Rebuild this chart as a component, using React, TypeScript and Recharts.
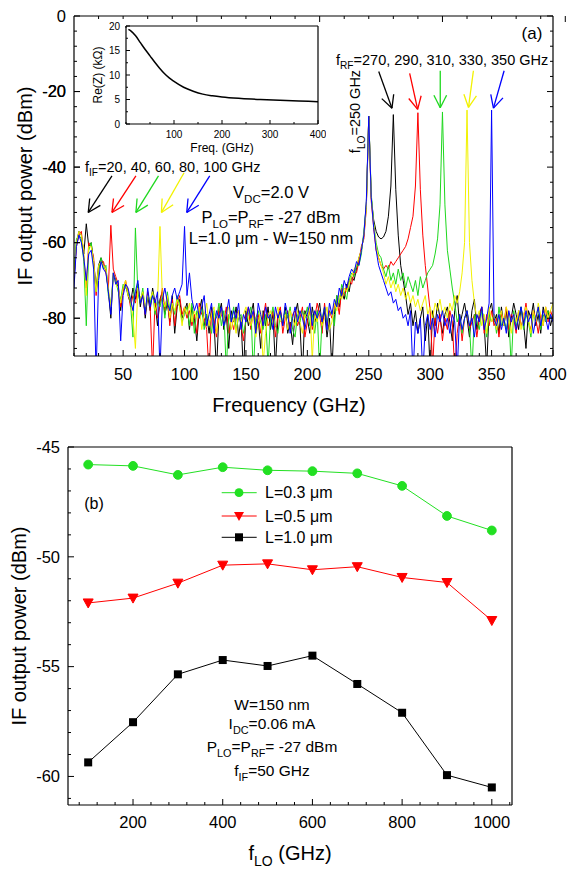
import React from 'react';
import { LineChart, Line, XAxis, YAxis, ReferenceLine } from 'recharts';

const FONT = "'Liberation Sans', Arial, Helvetica, sans-serif";

const range = (a: number, b: number, s: number) =>
  Array.from({ length: Math.round((b - a) / s) + 1 }, (_, i) => +(a + i * s).toFixed(4));

// ---------- panel (a): IF spectra, 2 GHz grid from 10 to 400 GHz ----------
const freqGHz = range(10, 400, 2);

const blackDb = [
  -70, -60, -57, -58, -63, -55, -61, -60, -65, -72,
  -66, -64, -66, -67, -73, -80, -68, -70, -72, -78,
  -72, -71, -74, -76, -72, -75, -71, -77, -73, -80,
  -74, -78, -72, -76, -82, -75, -73, -79, -76, -81,
  -74, -84, -77, -75, -80, -78, -76, -83, -77, -80,
  -86, -78, -75, -82, -79, -84, -77, -81, -94, -79,
  -76, -83, -79, -88, -78, -81, -77, -85, -80, -95,
  -78, -82, -79, -76, -84, -80, -88, -78, -82, -77,
  -83, -79, -93, -80, -78, -82, -77, -84, -81, -87,
  -79, -76, -82, -95, -78, -80, -84, -77, -81, -79,
  -76, -82, -78, -85, -80, -94, -79, -74, -77, -73,
  -75, -71, -73, -69, -70, -67, -64, -62, -58, -50,
  -26.5, -48, -54, -57, -58.5, -59, -58.5, -57, -53, -45,
  -26.1, -46, -58, -66, -70, -74, -79, -76, -82, -78,
  -84, -80, -77, -86, -79, -94, -78, -82, -76, -80,
  -84, -79, -77, -81, -86, -78, -74, -82, -79, -76,
  -80, -85, -78, -75, -83, -79, -77, -82, -93, -78,
  -76, -81, -79, -84, -77, -82, -78, -85, -80, -76,
  -79, -83, -77, -81, -88, -78, -80, -76, -82, -79,
  -84, -77, -80, -78, -82, -79,
];

const redDb = [
  -69, -61, -58, -57, -64, -72, -60, -61, -64, -74,
  -67, -65, -65, -68, -72, -55.4, -67, -69, -71, -77,
  -73, -70, -73, -77, -74, -76, -72, -75, -74, -79,
  -73, -77, -94, -75, -80, -76, -72, -78, -74, -82,
  -75, -82, -76, -74, -79, -77, -80, -78, -82, -79,
  -84, -76, -79, -80, -83, -95, -78, -80, -85, -77,
  -79, -81, -77, -84, -80, -83, -79, -78, -82, -86,
  -80, -77, -83, -78, -81, -79, -84, -80, -76, -82,
  -81, -78, -85, -79, -77, -84, -80, -78, -83, -79,
  -78, -82, -80, -77, -85, -81, -78, -83, -80, -76,
  -79, -84, -76, -82, -78, -80, -77, -75, -79, -72,
  -74, -72, -70, -71, -68, -68, -65, -61, -59, -51,
  -26.5, -49, -56, -62, -64, -66, -67, -66, -67, -65,
  -66, -65, -64, -63, -62, -61, -59, -56, -53, -45,
  -25.6, -46, -58, -66, -72, -78, -93, -80, -84, -79,
  -86, -80, -83, -78, -81, -94, -84, -79, -86, -80,
  -78, -83, -81, -79, -85, -80, -77, -84, -79, -82,
  -78, -82, -80, -85, -79, -81, -77, -83, -79, -80,
  -84, -78, -82, -80, -76, -81, -83, -78, -80, -84,
  -79, -82, -77, -81, -78, -80,
];

const greenDb = [
  -68, -59, -58, -59, -65, -82, -62, -60, -66, -73,
  -68, -64, -67, -66, -74, -76, -69, -70, -73, -75,
  -71, -72, -73, -76, -85, -56.1, -73, -76, -72, -78,
  -74, -76, -73, -79, -75, -77, -74, -80, -73, -78,
  -76, -79, -74, -77, -81, -79, -77, -82, -76, -84,
  -78, -80, -77, -83, -79, -81, -84, -78, -80, -76,
  -82, -78, -94, -79, -81, -77, -83, -80, -79, -84,
  -81, -79, -77, -95, -80, -78, -81, -83, -79, -93,
  -80, -77, -82, -84, -79, -81, -78, -80, -77, -83,
  -85, -79, -81, -78, -80, -77, -82, -79, -84, -78,
  -94, -80, -77, -81, -79, -78, -82, -74, -76, -71,
  -73, -75, -70, -68, -69, -66, -66, -63, -57, -50,
  -26.5, -47, -55, -60, -63, -64, -67, -69, -66, -70,
  -68, -71, -67, -70, -68, -72, -69, -71, -73, -70,
  -74, -69, -72, -70, -68, -67, -66, -63, -59, -50,
  -25.4, -50, -62, -67, -72, -76, -81, -79, -84, -80,
  -78, -82, -94, -79, -81, -83, -78, -80, -85, -79,
  -81, -79, -84, -77, -82, -80, -83, -79, -93, -78,
  -82, -80, -77, -83, -79, -81, -85, -79, -80, -77,
  -83, -79, -81, -78, -80, -79,
];

const yellowDb = [
  -69, -60, -57, -58, -62, -74, -61, -61, -65, -73,
  -66, -65, -66, -67, -72, -77, -68, -71, -72, -76,
  -72, -70, -74, -75, -80, -88, -72, -75, -73, -77,
  -74, -75, -73, -78, -76, -55.7, -75, -77, -74, -80,
  -76, -78, -75, -77, -82, -77, -79, -76, -81, -78,
  -80, -77, -83, -79, -76, -82, -79, -77, -84, -80,
  -78, -81, -79, -77, -83, -80, -84, -78, -81, -79,
  -77, -80, -82, -79, -85, -81, -78, -92, -84, -79,
  -78, -82, -80, -77, -81, -80, -79, -83, -78, -80,
  -82, -78, -81, -84, -79, -80, -77, -91, -79, -81,
  -78, -82, -80, -77, -83, -81, -76, -78, -74, -75,
  -72, -73, -71, -69, -67, -66, -64, -62, -58, -51,
  -26.5, -48, -55, -61, -64, -66, -68, -71, -69, -72,
  -70, -73, -71, -74, -72, -75, -73, -76, -74, -77,
  -75, -78, -76, -74, -79, -77, -80, -76, -78, -75,
  -79, -77, -80, -76, -78, -74, -76, -73, -68, -60,
  -24.9, -60, -70, -76, -80, -78, -82, -79, -84, -77,
  -81, -79, -83, -80, -78, -82, -77, -80, -84, -79,
  -81, -78, -83, -79, -77, -80, -84, -78, -81, -76,
  -79, -82, -77, -80, -78, -76,
];

const blueDb = [
  -72, -61, -58, -60, -64, -70, -63, -62, -67, -95,
  -70, -65, -67, -68, -73, -79, -68, -71, -70, -86,
  -74, -71, -72, -75, -78, -73, -70, -76, -74, -79,
  -72, -77, -74, -76, -73, -94, -75, -72, -76, -78,
  -74, -72, -75, -73, -71, -55.7, -74, -68, -75, -78,
  -76, -80, -77, -74, -82, -79, -76, -84, -78, -80,
  -77, -82, -79, -75, -81, -78, -80, -76, -83, -79,
  -81, -77, -80, -78, -84, -76, -79, -82, -77, -80,
  -79, -83, -77, -80, -78, -82, -76, -79, -84, -80,
  -77, -81, -78, -80, -83, -79, -76, -82, -78, -80,
  -78, -81, -77, -83, -76, -79, -75, -77, -72, -74,
  -70, -72, -69, -67, -68, -65, -66, -62, -58, -49,
  -26.5, -48, -56, -62, -66, -68, -70, -72, -74, -73,
  -76, -75, -78, -77, -80, -79, -82, -78, -95, -81,
  -84, -80, -95, -82, -79, -83, -80, -85, -79, -81,
  -78, -82, -80, -84, -79, -81, -94, -79, -83, -80,
  -78, -82, -80, -85, -79, -81, -77, -83, -80, -76,
  -24.9, -80, -82, -79, -83, -80, -84, -78, -81, -79,
  -83, -80, -77, -82, -78, -81, -79, -84, -80, -77,
  -82, -78, -80, -83, -79, -81,
];

const SPECTRA = [
  { key: 'black', color: '#000000', values: blackDb },
  { key: 'red', color: '#ff0000', values: redDb },
  { key: 'green', color: '#1ed81e', values: greenDb },
  { key: 'yellow', color: '#f2f200', values: yellowDb },
  { key: 'blue', color: '#0000ff', values: blueDb },
];

const spectrumRows = freqGHz.map((f, i) => {
  const row: Record<string, number> = { f };
  SPECTRA.forEach((s) => (row[s.key] = s.values[i]));
  return row;
});

// inset: Re(Z) vs frequency
const insetFreq = [5, 10, 20, 30, 40, 50, 60, 70, 80, 90, 100, 120, 140, 160, 180, 200, 240, 280, 320, 360, 400];
const insetReZ = [19.3, 19.0, 18.0, 16.6, 15.2, 13.9, 12.6, 11.4, 10.3, 9.4, 8.7, 7.5, 6.7, 6.1, 5.75, 5.5, 5.2, 5.0, 4.85, 4.7, 4.55];
const insetRows = insetFreq.map((f, i) => ({ f, z: insetReZ[i] }));

// ---------- panel (b): IF power vs f_LO ----------
const loFreq = [100, 200, 300, 400, 500, 600, 700, 800, 900, 1000];
const powerL03 = [-45.8, -45.86, -46.27, -45.92, -46.06, -46.1, -46.2, -46.77, -48.14, -48.8];
const powerL05 = [-52.1, -51.88, -51.2, -50.38, -50.32, -50.59, -50.45, -50.94, -51.17, -52.9];
const powerL10 = [-59.36, -57.53, -55.35, -54.7, -54.97, -54.5, -55.79, -57.1, -59.94, -60.5];
const loRows = loFreq.map((f, i) => ({ f, l03: powerL03[i], l05: powerL05[i], l10: powerL10[i] }));

// tick labels
const specXMajor = [50, 100, 150, 200, 250, 300, 350, 400];
const specYMajor = [0, -20, -40, -60, -80];
const insetXMajor = [100, 200, 300, 400];
const insetYMajor = [0, 5, 10, 15, 20];
const loXMajor = [200, 400, 600, 800, 1000];
const loYMajor = [-45, -50, -55, -60];

// ---------- geometry ----------
// axes need a non-zero box, so each chart's margin = wanted offset minus axis sizes
const AX_B = 30; // bottom axis height
const AX_L = 40; // left axis width
const AX_T = 1; // top axis height
const AX_R = 1; // right axis width

const TOP_W = 567;
const TOP_H = 400;
const TOP_PLOT = { top: 16, right: 14, bottom: 44, left: 74 };
const KX = (TOP_W - TOP_PLOT.left - TOP_PLOT.right) / (400 - 10);
const KY = (TOP_H - TOP_PLOT.top - TOP_PLOT.bottom) / 90;

const marginFor = (p: { top: number; right: number; bottom: number; left: number }) => ({
  top: p.top - AX_T,
  right: p.right - AX_R,
  bottom: p.bottom - AX_B,
  left: p.left - AX_L,
});

type Pt = [number, number];

// shaft + two wings of an arrow, in data coordinates
function arrowSegments(tail: Pt, tip: Pt, head = 14, ang = 0.47) {
  const dx = (tail[0] - tip[0]) * KX;
  const dy = -(tail[1] - tip[1]) * KY;
  const len = Math.hypot(dx, dy);
  const ux = dx / len;
  const uy = dy / len;
  const wing = (a: number) => {
    const px = (ux * Math.cos(a) - uy * Math.sin(a)) * head;
    const py = (ux * Math.sin(a) + uy * Math.cos(a)) * head;
    return { x: tip[0] + px / KX, y: tip[1] - py / KY };
  };
  const t = { x: tip[0], y: tip[1] };
  return [
    [{ x: tail[0], y: tail[1] }, t],
    [t, wing(ang)],
    [t, wing(-ang)],
  ];
}

const ARROWS: { color: string; tail: Pt; tip: Pt }[] = [
  { color: '#000000', tail: [40.9, -42.3], tip: [21.6, -52] },
  { color: '#ff0000', tail: [60.4, -42.3], tip: [40.9, -52] },
  { color: '#1ed81e', tail: [78.8, -42.3], tip: [60.4, -52] },
  { color: '#f2f200', tail: [99.6, -41.5], tip: [81.2, -52] },
  { color: '#0000ff', tail: [120.5, -42.3], tip: [101.8, -52] },
  { color: '#000000', tail: [258.1, -14.7], tip: [268.9, -24.4] },
  { color: '#ff0000', tail: [283.3, -15.2], tip: [289.8, -24.7] },
  { color: '#1ed81e', tail: [308.2, -14.5], tip: [308.2, -24.3] },
  { color: '#f2f200', tail: [335.2, -14.5], tip: [331.2, -24.2] },
  { color: '#0000ff', tail: [360.2, -14.5], tip: [351.5, -24.4] },
];

type Side = 'bottom' | 'top' | 'left' | 'right';

// inward frame ticks; majors get longer ticks and (optionally) a label
function frameTick(side: Side, majors: number[], label: boolean, fontSize: number, gap: number, major = 6, minor = 3) {
  return (p: any) => {
    const v = p.payload.value;
    const isMajor = majors.includes(v);
    const len = isMajor ? major : minor;
    const { x, y } = p;
    let line: React.ReactNode;
    let text: React.ReactNode = null;
    const ts = { fontSize, fontFamily: FONT, fill: '#000' };
    if (side === 'bottom') {
      line = <line x1={x} y1={y - gap} x2={x} y2={y - gap - len} />;
      if (label && isMajor) text = <text x={x} y={y} dy="0.71em" textAnchor="middle" stroke="none" {...ts}>{v}</text>;
    } else if (side === 'top') {
      line = <line x1={x} y1={y + gap} x2={x} y2={y + gap + len} />;
    } else if (side === 'left') {
      line = <line x1={x + gap} y1={y} x2={x + gap + len} y2={y} />;
      if (label && isMajor) text = <text x={x} y={y} dy="0.35em" textAnchor="end" stroke="none" {...ts}>{v}</text>;
    } else {
      line = <line x1={x - gap} y1={y} x2={x - gap - len} y2={y} />;
    }
    return (
      <g stroke="#000" strokeWidth={1}>
        {line}
        {text}
      </g>
    );
  };
}

const axisLine = { stroke: '#000', strokeWidth: 1.2 };

// text with subscripts: parts = [text, isSub]
function Label({ x, cy, size, parts, anchor = 'start', rotate = false }: {
  x: number; cy: number; size: number; parts: [string, boolean][]; anchor?: 'start' | 'middle' | 'end'; rotate?: boolean;
}) {
  const shift = size * 0.3;
  let cur = 0;
  return (
    <text
      x={x}
      y={cy + size * 0.36}
      fontSize={size}
      fontFamily={FONT}
      textAnchor={anchor}
      fill="#000"
      transform={rotate ? `rotate(-90 ${x} ${cy})` : undefined}
    >
      {parts.map(([t, sub], i) => {
        const target = sub ? shift : 0;
        const dy = target - cur;
        cur = target;
        return (
          <tspan key={i} dy={dy} fontSize={sub ? size * 0.7 : size}>
            {t}
          </tspan>
        );
      })}
    </text>
  );
}

function SpectrumChart() {
  return (
    <LineChart width={TOP_W} height={TOP_H} data={spectrumRows} margin={marginFor(TOP_PLOT)}>
      <XAxis dataKey="f" type="number" domain={[10, 400]} allowDataOverflow ticks={range(10, 400, 10)} interval={0}
        height={AX_B} tickSize={0} tickMargin={12} tickLine={false} axisLine={axisLine}
        tick={frameTick('bottom', specXMajor, true, 16.5, 12)} />
      <XAxis xAxisId="t" orientation="top" type="number" domain={[10, 400]} allowDataOverflow ticks={range(10, 400, 10)} interval={0}
        height={AX_T} tickSize={0} tickMargin={0} tickLine={false} axisLine={axisLine}
        tick={frameTick('top', specXMajor, false, 16, 0)} />
      <YAxis type="number" domain={[-90, 0]} allowDataOverflow ticks={range(-88, 0, 4).concat([-80, -60, -40, -20])} interval={0}
        width={AX_L} tickSize={0} tickMargin={8} tickLine={false} axisLine={axisLine}
        tick={frameTick('left', specYMajor, true, 16.5, 8)} />
      <YAxis yAxisId="r" orientation="right" type="number" domain={[-90, 0]} allowDataOverflow ticks={range(-88, 0, 4)} interval={0}
        width={AX_R} tickSize={0} tickMargin={0} tickLine={false} axisLine={axisLine}
        tick={frameTick('right', specYMajor, false, 16, 0)} />
      {SPECTRA.map((s) => (
        <Line key={s.key} dataKey={s.key} type="linear" stroke={s.color} strokeWidth={1} dot={false} isAnimationActive={false} />
      ))}
      {ARROWS.flatMap((a, i) =>
        arrowSegments(a.tail, a.tip).map((seg, j) => (
          <ReferenceLine key={`a${i}-${j}`} segment={seg} stroke={a.color} strokeWidth={1.3} ifOverflow="visible" />
        )),
      )}
    </LineChart>
  );
}

function InsetChart() {
  return (
    <LineChart width={250} height={150} data={insetRows}
      margin={marginFor({ top: 16, right: 8, bottom: 36, left: 50 })}>
      <XAxis dataKey="f" type="number" domain={[0, 400]} ticks={range(0, 400, 50)} interval={0}
        height={AX_B} tickSize={0} tickMargin={7} tickLine={false} axisLine={axisLine}
        tick={frameTick('bottom', insetXMajor, true, 10, 7, 4, 2)} />
      <XAxis xAxisId="t" orientation="top" type="number" domain={[0, 400]} ticks={range(0, 400, 50)} interval={0}
        height={AX_T} tickSize={0} tickMargin={0} tickLine={false} axisLine={axisLine}
        tick={frameTick('top', insetXMajor, false, 10, 0, 4, 2)} />
      <YAxis type="number" domain={[0, 20]} ticks={range(0, 20, 2.5)} interval={0}
        width={AX_L} tickSize={0} tickMargin={6} tickLine={false} axisLine={axisLine}
        tick={frameTick('left', insetYMajor, true, 10, 6, 4, 2)} />
      <YAxis yAxisId="r" orientation="right" type="number" domain={[0, 20]} ticks={range(0, 20, 2.5)} interval={0}
        width={AX_R} tickSize={0} tickMargin={0} tickLine={false} axisLine={axisLine}
        tick={frameTick('right', insetYMajor, false, 10, 0, 4, 2)} />
      <Line dataKey="z" type="monotone" stroke="#000" strokeWidth={1.5} dot={false} isAnimationActive={false} />
    </LineChart>
  );
}

const GREEN = '#22e022';
const RED = '#ff0000';

const circleDot = (p: any) => <circle key={`c${p.index}`} cx={p.cx} cy={p.cy} r={4.4} fill={GREEN} stroke={GREEN} />;
const triDot = (p: any) => (
  <polygon key={`t${p.index}`} points={`${p.cx - 5},${p.cy - 4} ${p.cx + 5},${p.cy - 4} ${p.cx},${p.cy + 5}`} fill={RED} stroke={RED} />
);
const squareDot = (p: any) => <rect key={`s${p.index}`} x={p.cx - 4} y={p.cy - 4} width={8} height={8} fill="#000" />;

function LoChart() {
  return (
    <LineChart width={567} height={450} data={loRows}
      margin={marginFor({ top: 27, right: 55, bottom: 65, left: 68 })}>
      <XAxis dataKey="f" type="number" domain={[55, 1045]} ticks={range(80, 1040, 40)} interval={0}
        height={AX_B} tickSize={0} tickMargin={11} tickLine={false} axisLine={axisLine}
        tick={frameTick('bottom', loXMajor, true, 16.5, 11)} />
      <XAxis xAxisId="t" orientation="top" type="number" domain={[55, 1045]} ticks={range(80, 1040, 40)} interval={0}
        height={AX_T} tickSize={0} tickMargin={0} tickLine={false} axisLine={axisLine}
        tick={frameTick('top', loXMajor, false, 16, 0)} />
      <YAxis type="number" domain={[-61.3, -45]} ticks={range(-61, -45, 1)} interval={0}
        width={AX_L} tickSize={0} tickMargin={8} tickLine={false} axisLine={axisLine}
        tick={frameTick('left', loYMajor, true, 16.5, 8)} />
      <YAxis yAxisId="r" orientation="right" type="number" domain={[-61.3, -45]} ticks={range(-61, -45, 1)} interval={0}
        width={AX_R} tickSize={0} tickMargin={0} tickLine={false} axisLine={axisLine}
        tick={frameTick('right', loYMajor, false, 16, 0)} />
      <Line dataKey="l03" stroke={GREEN} strokeWidth={1} dot={circleDot} isAnimationActive={false} />
      <Line dataKey="l05" stroke={RED} strokeWidth={1} dot={triDot} isAnimationActive={false} />
      <Line dataKey="l10" stroke="#000" strokeWidth={1} dot={squareDot} isAnimationActive={false} />
    </LineChart>
  );
}

const LEGEND = [
  { label: 'L=0.3 μm', color: GREEN, y: 492.7, marker: 'circle' },
  { label: 'L=0.5 μm', color: RED, y: 516, marker: 'tri' },
  { label: 'L=1.0 μm', color: '#000', y: 537.3, marker: 'square' },
];

function Overlay() {
  return (
    <svg width={567} height={870} style={{ position: 'absolute', left: 0, top: 0, pointerEvents: 'none' }}>
      {/* panel (a) labels */}
      <Label x={25} cy={186} size={20} anchor="middle" rotate parts={[['IF output power (dBm)', false]]} />
      <Label x={289} cy={405} size={20} anchor="middle" parts={[['Frequency (GHz)', false]]} />
      <Label x={532} cy={33} size={17} anchor="middle" parts={[['(a)', false]]} />
      <Label x={98} cy={75} size={12} anchor="middle" rotate parts={[['Re(Z) (kΩ)', false]]} />
      <Label x={222} cy={147.7} size={12} anchor="middle" parts={[['Freq. (GHz)', false]]} />
      <Label x={85} cy={166.7} size={14.5} parts={[['f', false], ['IF', true], ['=20, 40, 60, 80, 100 GHz', false]]} />
      <Label x={336} cy={59.3} size={14.5} parts={[['f', false], ['RF', true], ['=270, 290, 310, 330, 350 GHz', false]]} />
      <Label x={355} cy={111.5} size={14.5} anchor="middle" rotate parts={[['f', false], ['LO', true], ['=250 GHz', false]]} />
      <Label x={271} cy={191.7} size={16.5} anchor="middle" parts={[['V', false], ['DC', true], ['=2.0 V', false]]} />
      <Label x={271} cy={216.7} size={16.5} anchor="middle" parts={[['P', false], ['LO', true], ['=P', false], ['RF', true], ['= -27 dBm', false]]} />
      <Label x={271} cy={238.3} size={16.5} anchor="middle" parts={[['L=1.0 μm - W=150 nm', false]]} />

      {/* panel (b) labels */}
      <Label x={19} cy={626} size={20} anchor="middle" rotate parts={[['IF output power (dBm)', false]]} />
      <Label x={290} cy={853} size={20} anchor="middle" parts={[['f', false], ['LO', true], [' (GHz)', false]]} />
      <Label x={94} cy={503} size={16} anchor="middle" parts={[['(b)', false]]} />
      <Label x={272} cy={704.3} size={15.5} anchor="middle" parts={[['W=150 nm', false]]} />
      <Label x={272} cy={723.3} size={15.5} anchor="middle" parts={[['I', false], ['DC', true], ['=0.06 mA', false]]} />
      <Label x={272} cy={746.7} size={15.5} anchor="middle" parts={[['P', false], ['LO', true], ['=P', false], ['RF', true], ['= -27 dBm', false]]} />
      <Label x={272} cy={770.7} size={15.5} anchor="middle" parts={[['f', false], ['IF', true], ['=50 GHz', false]]} />

      {LEGEND.map((l) => (
        <g key={l.label}>
          <line x1={221.7} y1={l.y} x2={256.7} y2={l.y} stroke={l.color} strokeWidth={1} />
          {l.marker === 'circle' && <circle cx={239} cy={l.y} r={4.4} fill={l.color} />}
          {l.marker === 'tri' && (
            <polygon points={`${234},${l.y - 4} ${244},${l.y - 4} ${239},${l.y + 5}`} fill={l.color} />
          )}
          {l.marker === 'square' && <rect x={235} y={l.y - 4} width={8} height={8} fill={l.color} />}
          <Label x={265} cy={l.y} size={16} parts={[[l.label, false]]} />
        </g>
      ))}
    </svg>
  );
}

export default function App() {
  return (
    <div style={{ position: 'absolute', left: 0, top: 0, width: 567, height: 870, background: '#fff', overflow: 'hidden', fontFamily: FONT }}>
      <div style={{ position: 'absolute', left: 0, top: 0 }}>
        <SpectrumChart />
      </div>
      <div style={{ position: 'absolute', left: 76, top: 10 }}>
        <InsetChart />
      </div>
      <div style={{ position: 'absolute', left: 0, top: 420 }}>
        <LoChart />
      </div>
      <Overlay />
    </div>
  );
}
